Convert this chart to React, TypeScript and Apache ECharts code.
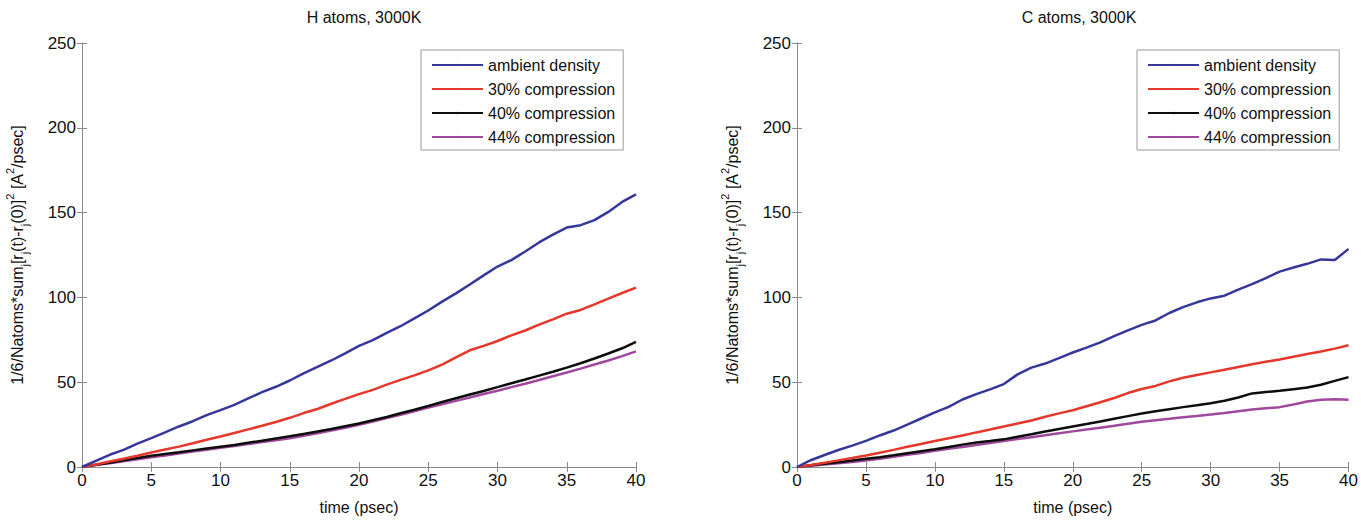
import React, { useEffect, useRef } from "react";
import * as echarts from "echarts";

// Simulation time (psec)
const time = [
  0, 1, 2, 3, 4, 5, 6, 7, 8, 9, 10, 11, 12, 13, 14, 15, 16, 17, 18, 19, 20,
  21, 22, 23, 24, 25, 26, 27, 28, 29, 30, 31, 32, 33, 34, 35, 36, 37, 38, 39, 40,
];

const seriesNames = ["ambient density", "30% compression", "40% compression", "44% compression"];
const seriesColors = ["#36379b", "#e5372a", "#0d0d0d", "#a0489c"];

// Mean square displacement of H atoms, 3000K
const hAmbient = [
  0, 3.6, 7.2, 10.1, 13.8, 17.0, 20.4, 23.9, 27.0, 30.6, 33.5, 36.6, 40.4, 44.1, 47.3, 51.0,
  55.2, 59.0, 62.8, 67.0, 71.4, 74.8, 79.1, 83.0, 87.6, 92.3, 97.5, 102.4, 107.6, 113.0, 118.2,
  122.0, 127.1, 132.4, 137.0, 141.2, 142.6, 145.6, 150.4, 156.3, 160.8,
];
const h30 = [
  0, 1.5, 3.2, 4.9, 6.6, 8.5, 10.3, 12.0, 14.0, 16.1, 18.0, 20.0, 22.2, 24.3, 26.5, 29.0,
  31.8, 34.2, 37.3, 40.2, 43.0, 45.5, 48.6, 51.4, 54.0, 57.0, 60.4, 64.6, 68.8, 71.4, 74.3,
  77.6, 80.5, 83.9, 87.0, 90.4, 92.6, 95.9, 99.3, 102.6, 105.8,
];
const h40 = [
  0, 1.3, 2.5, 3.9, 5.3, 6.6, 7.7, 8.7, 9.8, 10.9, 12.0, 13.0, 14.3, 15.5, 16.8, 18.1,
  19.5, 20.9, 22.4, 24.0, 25.6, 27.6, 29.5, 31.7, 33.8, 36.0, 38.3, 40.5, 42.7, 44.8, 47.1,
  49.4, 51.6, 53.9, 56.2, 58.6, 61.2, 64.0, 66.9, 70.0, 73.8,
];
const h44 = [
  0, 1.1, 2.2, 3.4, 4.6, 5.7, 6.8, 8.0, 9.1, 10.2, 11.3, 12.4, 13.5, 14.7, 15.8, 17.0,
  18.4, 19.9, 21.5, 23.2, 24.9, 26.8, 28.8, 30.8, 32.9, 35.0, 37.0, 39.0, 41.0, 43.0, 45.0,
  47.1, 49.1, 51.3, 53.5, 55.7, 58.0, 60.4, 62.8, 65.4, 68.2,
];

// Mean square displacement of C atoms, 3000K
const cAmbient = [
  0, 4.0, 7.1, 10.0, 12.6, 15.4, 18.6, 21.5, 25.0, 28.6, 32.2, 35.4, 39.8, 43.0, 45.8, 48.9,
  54.6, 58.6, 61.0, 64.2, 67.5, 70.4, 73.5, 77.2, 80.6, 83.8, 86.4, 90.8, 94.3, 97.1, 99.4,
  101.0, 104.6, 107.8, 111.4, 115.2, 117.6, 119.8, 122.4, 122.0, 128.6,
];
const c30 = [
  0, 1.2, 2.5, 3.9, 5.3, 6.8, 8.4, 10.1, 11.9, 13.6, 15.3, 16.9, 18.6, 20.4, 22.1, 23.9,
  25.6, 27.4, 29.6, 31.6, 33.5, 35.8, 38.2, 40.7, 43.6, 46.0, 47.8, 50.5, 52.6, 54.3, 55.8,
  57.4, 59.0, 60.6, 62.0, 63.4, 65.0, 66.6, 68.1, 69.8, 71.8,
];
const c40 = [
  0, 1.0, 1.9, 2.8, 3.8, 4.8, 5.8, 6.9, 8.1, 9.3, 10.5, 11.8, 13.2, 14.4, 15.3, 16.3,
  17.8, 19.3, 20.9, 22.4, 23.9, 25.3, 26.8, 28.4, 30.0, 31.5, 32.9, 34.1, 35.3, 36.4, 37.6,
  39.1, 41.0, 43.4, 44.2, 44.9, 45.9, 46.9, 48.5, 50.8, 53.0,
];
const c44 = [
  0, 0.8, 1.5, 2.2, 3.0, 3.8, 4.9, 6.1, 7.2, 8.3, 9.5, 10.7, 11.8, 13.0, 14.2, 15.3,
  16.5, 17.6, 18.7, 19.9, 21.0, 22.1, 23.2, 24.3, 25.5, 26.7, 27.6, 28.4, 29.3, 30.1, 31.0,
  31.9, 32.9, 33.9, 34.6, 35.3, 36.9, 38.6, 39.7, 39.9, 39.6,
];

const panelTitles = ["H atoms, 3000K", "C atoms, 3000K"];
const xLabel = "time (psec)";
const yLabelRich =
  "{n|1/6/Natoms*sum}{s|j}{n|[r}{s|j}{n|(t)-r}{s|j}{n|(0)]}{p|2}{n| [A}{p|2}{n|/psec]}";

const X_MIN = 0, X_MAX = 40, X_STEP = 5;
const Y_MIN = 0, Y_MAX = 250, Y_STEP = 50;

const FONT = "Liberation Sans, Arial, Helvetica, sans-serif";
const AXIS_GREY = "#8a8a8a";

const panels = [
  { left: 82, legendLeft: 421, data: [hAmbient, h30, h40, h44] },
  { left: 797, legendLeft: 1137, data: [cAmbient, c30, c40, c44] },
];
const GRID_TOP = 43;
const GRID_W = 554;
const GRID_H = 433;

export default function App() {
  const ref = useRef<HTMLDivElement>(null);

  useEffect(() => {
    if (!ref.current) return;
    const chart = echarts.init(ref.current, undefined, { renderer: "svg" });

    const grids: any[] = [];
    const xAxes: any[] = [];
    const yAxes: any[] = [];
    const series: any[] = [];
    const legends: any[] = [];
    const titles: any[] = [];

    const boxLine = { show: true, lineStyle: { color: AXIS_GREY, width: 1 } };
    const inTick = { show: true, inside: true, length: 5, lineStyle: { color: AXIS_GREY } };

    panels.forEach((p, gi) => {
      grids.push({ left: p.left, top: GRID_TOP, width: GRID_W, height: GRID_H, containLabel: false });

      titles.push({
        text: panelTitles[gi],
        left: p.left + GRID_W / 2,
        top: 4,
        textAlign: "center",
        textStyle: { fontFamily: FONT, fontSize: 16, fontWeight: "normal", color: "#111" },
      });

      const xBase = {
        type: "value",
        gridIndex: gi,
        min: X_MIN,
        max: X_MAX,
        interval: X_STEP,
        splitLine: { show: false },
        axisLine: boxLine,
        axisTick: inTick,
      };
      xAxes.push({
        ...xBase,
        position: "bottom",
        name: xLabel,
        nameLocation: "middle",
        nameGap: 32,
        nameTextStyle: { fontFamily: FONT, fontSize: 16, color: "#111" },
        axisLabel: { fontFamily: FONT, fontSize: 17, color: "#111", margin: 5 },
      });
      xAxes.push({ ...xBase, position: "top", axisLabel: { show: false } });

      const yBase = {
        type: "value",
        gridIndex: gi,
        min: Y_MIN,
        max: Y_MAX,
        interval: Y_STEP,
        splitLine: { show: false },
        axisLine: boxLine,
        axisTick: inTick,
      };
      yAxes.push({
        ...yBase,
        position: "left",
        name: yLabelRich,
        nameLocation: "middle",
        nameRotate: 90,
        nameGap: 52,
        nameTextStyle: {
          fontFamily: FONT,
          color: "#111",
          rich: {
            n: { fontFamily: FONT, fontSize: 16, lineHeight: 26, color: "#111" },
            s: { fontFamily: FONT, fontSize: 11, lineHeight: 12, verticalAlign: "bottom", color: "#111" },
            p: { fontFamily: FONT, fontSize: 11, lineHeight: 12, verticalAlign: "top", color: "#111" },
          },
        },
        axisLabel: { fontFamily: FONT, fontSize: 17, color: "#111", margin: 6 },
      });
      yAxes.push({ ...yBase, position: "right", axisLabel: { show: false } });

      p.data.forEach((vals, si) => {
        series.push({
          name: seriesNames[si],
          type: "line",
          xAxisIndex: gi * 2,
          yAxisIndex: gi * 2,
          data: time.map((t, i) => [t, vals[i]]),
          showSymbol: false,
          symbol: "none",
          lineStyle: { color: seriesColors[si], width: 2.5 },
          itemStyle: { color: seriesColors[si] },
          z: 10 - si,
        });
      });

      legends.push({
        show: true,
        orient: "vertical",
        left: p.legendLeft,
        top: 50,
        data: seriesNames,
        itemWidth: 51,
        itemHeight: 3,
        itemGap: 6,
        padding: [6, 8, 4, 10],
        borderColor: "#9a9a9a",
        borderWidth: 1,
        backgroundColor: "#ffffff",
        selectedMode: false,
        textStyle: { fontFamily: FONT, fontSize: 16, color: "#111", lineHeight: 18 },
      });
    });

    chart.setOption({
      animation: false,
      backgroundColor: "#ffffff",
      title: titles,
      grid: grids,
      xAxis: xAxes,
      yAxis: yAxes,
      legend: legends,
      series,
    });

    return () => chart.dispose();
  }, []);

  return (
    <div
      ref={ref}
      style={{ position: "fixed", left: 0, top: 0, width: 1361, height: 520, background: "#fff" }}
    />
  );
}
